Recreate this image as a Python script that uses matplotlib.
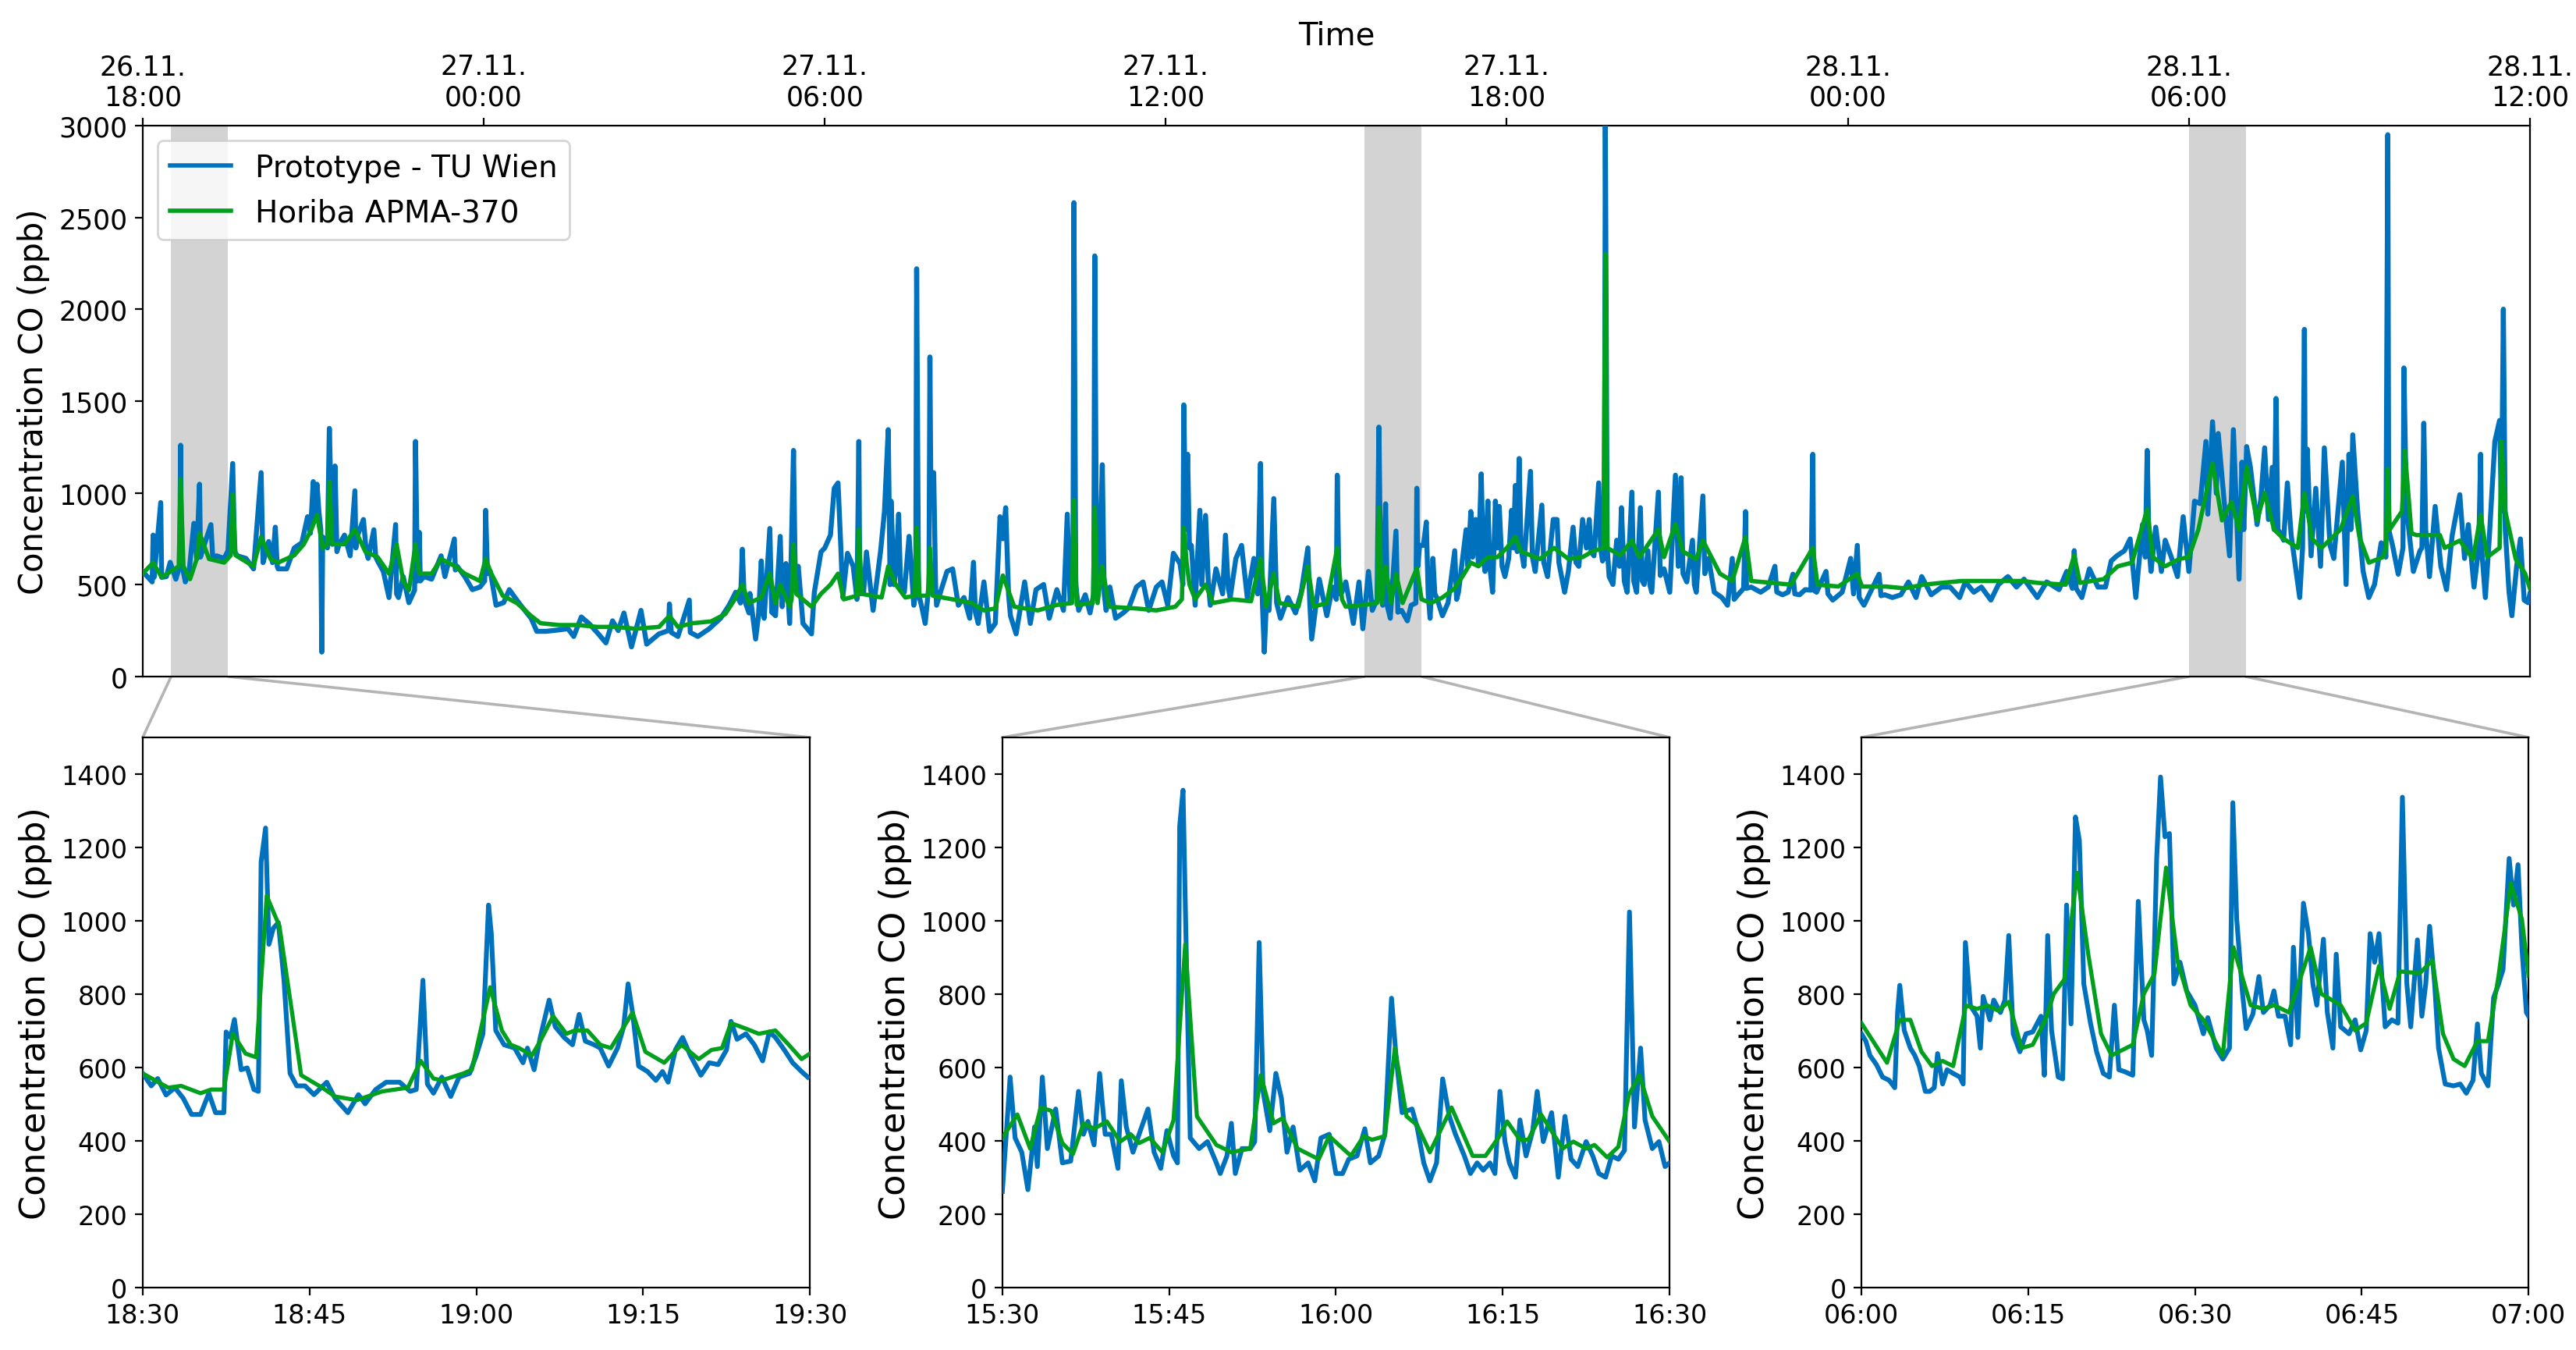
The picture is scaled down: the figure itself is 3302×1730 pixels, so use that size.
import matplotlib
matplotlib.use("Agg")
import matplotlib.pyplot as plt
import matplotlib.dates as mdates
from matplotlib.patches import ConnectionPatch
import pandas as pd

# ------------------------------------------------------------
# CO comparison: prototype sensor vs. Horiba APMA-370 reference
# values (ppb)
# ------------------------------------------------------------
START = pd.Timestamp("2018-11-26 18:00")
END = pd.Timestamp("2018-11-28 12:00")

# main panel, minutes after 26.11. 18:00
main_blue_min = [
    0, 10, 11, 12, 19, 20, 25, 29, 35, 39, 40, 41, 45, 49, 54, 57, 60, 61, 63, 72,
    74, 78, 86, 90, 95, 97, 100, 109, 117, 125, 127, 129, 133, 137, 140, 142, 143, 152, 160, 168,
    174, 177, 180, 182, 184, 186, 188, 189, 190, 195, 197, 200, 203, 205, 207, 213, 219, 224, 225, 227,
    233, 236, 238, 244, 246, 248, 254, 260, 267, 268, 270, 275, 281, 287, 288, 290, 292, 293, 297, 305,
    315, 319, 329, 330, 332, 340, 348, 356, 361, 362, 364, 367, 373, 381, 387, 393, 399, 410, 416, 426,
    438, 449, 455, 463, 471, 481, 489, 496, 502, 508, 516, 526, 532, 545, 555, 556, 558, 565, 577, 578,
    586, 598, 610, 619, 626, 631, 633, 635,
    640, 641, 644, 647, 650, 653, 655, 656, 662, 664, 668, 673, 675, 679, 683, 687, 689, 692, 697, 706,
    709, 716, 720, 726, 730, 734, 737, 739, 744, 750, 754, 756, 757, 761, 764, 771, 779, 783, 787, 789,
    790, 793, 795, 798, 800, 804, 809, 814, 816, 817, 819, 822, 826, 830, 831, 832, 835, 837, 838, 843,
    849, 855, 861, 867, 873, 877, 879, 882, 888, 894, 900, 905, 908, 911, 914, 916, 922, 931, 937, 943,
    951, 957, 965, 972, 976, 979, 982, 983, 985, 988, 995, 1000, 1004, 1005, 1007, 1010, 1013, 1015, 1017, 1021,
    1027, 1035, 1041, 1049, 1056, 1062, 1070, 1076, 1082, 1088, 1095, 1098, 1099, 1101, 1103, 1105, 1107, 1111, 1116, 1118,
    1122, 1125, 1127, 1133, 1140, 1143, 1146, 1148, 1154, 1160, 1166, 1173, 1177, 1180, 1182, 1184, 1186, 1189, 1194, 1197,
    1201, 1209, 1217, 1223, 1230, 1232, 1234, 1242, 1250, 1256, 1260, 1261, 1263, 1266,
    1270, 1278, 1284, 1288, 1294, 1298, 1303, 1305, 1307, 1309, 1312, 1314, 1317, 1323, 1325, 1329, 1335, 1339, 1344, 1345,
    1346, 1348, 1352, 1355, 1357, 1359, 1362, 1364, 1366, 1372, 1378, 1385, 1387, 1389, 1397, 1399, 1402, 1404, 1407, 1410,
    1413, 1415, 1417, 1420, 1422, 1425, 1428, 1430, 1432, 1435, 1438, 1442, 1445, 1447, 1449, 1451, 1453, 1455, 1458, 1465,
    1467, 1470, 1477, 1479, 1483, 1489, 1493, 1495, 1501, 1505, 1510, 1513, 1516, 1520, 1524, 1527, 1529, 1532, 1537, 1539,
    1541, 1543, 1544, 1546, 1548, 1552, 1556, 1559, 1561, 1564, 1567, 1572, 1574, 1577, 1581, 1583, 1585, 1589, 1591, 1593,
    1600, 1602, 1606, 1612, 1618, 1621, 1624, 1626, 1630, 1636, 1638, 1640, 1647, 1649, 1653, 1659, 1667, 1673, 1678, 1680,
    1684, 1690, 1692, 1693, 1698, 1708, 1716, 1723, 1725, 1731, 1737, 1742, 1744, 1749, 1755, 1761, 1763, 1764, 1767, 1777,
    1779, 1784, 1794, 1803, 1806, 1810, 1812, 1817, 1825, 1833, 1835, 1839, 1847, 1856, 1864, 1872, 1878, 1888, 1899,
    1908, 1918, 1924, 1933, 1941, 1951, 1959, 1969, 1978, 1986, 2000, 2010, 2023, 2031, 2037, 2039, 2041, 2047, 2055, 2064,
    2072, 2078, 2084, 2092, 2098, 2104, 2111, 2114, 2116, 2118, 2120, 2125, 2131, 2135, 2141, 2148, 2154, 2160, 2166, 2172,
    2178, 2180, 2185, 2189, 2191, 2197, 2203, 2207, 2213, 2216, 2218, 2221, 2225, 2232, 2236, 2240, 2244, 2248, 2250, 2252,
    2254, 2256, 2260, 2264, 2268, 2277, 2280, 2282, 2283, 2285, 2289, 2294, 2299, 2303, 2309, 2313, 2322, 2326, 2329, 2331,
    2333, 2338, 2344, 2350, 2356, 2363, 2368, 2370, 2371, 2375, 2381, 2386, 2387, 2389, 2391, 2397, 2404, 2406, 2408, 2410,
    2414, 2420, 2426, 2432, 2438, 2446, 2451, 2455, 2461, 2466, 2468, 2469, 2473, 2477, 2483, 2488, 2490, 2492, 2494, 2498,
    2501, 2506, 2510, 2514, 2518, 2520,
]
main_blue_ppb = [
    572, 515, 770, 540, 947, 540, 544, 622, 530, 600, 1259, 620, 515, 572, 834, 640, 1047, 650, 685, 827,
    640, 657, 643, 685, 1160, 680, 657, 643, 586, 1110, 620, 657, 735, 620, 813, 600, 586, 586, 700, 728,
    870, 780, 1061, 850, 1047, 898, 800, 133, 760, 700, 1351, 720, 1146, 680, 714, 770, 657, 1011, 700, 770,
    855, 680, 643, 799, 650, 629, 572, 430, 827, 450, 430, 544, 402, 470, 1280, 520, 785, 520, 544, 530,
    657, 544, 749, 580, 600, 544, 473, 487, 520, 905, 560, 572, 388, 402, 473, 430, 388, 317, 246, 246,
    253, 260, 218, 324, 289, 232, 183, 303, 250, 346, 161, 360, 176, 232, 250, 395, 240, 218, 416, 240,
    218, 260, 317, 388, 459, 400, 693, 420,
    346, 452, 330, 204, 330, 629, 340, 317, 806, 350, 331, 763, 380, 615, 289, 1231, 500, 600, 289, 232,
    459, 678, 700, 770, 1025, 1054, 700, 430, 671, 600, 420, 1280, 450, 459, 678, 360, 685, 898, 1344, 500,
    955, 500, 572, 884, 500, 459, 763, 388, 450, 2220, 450, 388, 289, 500, 1740, 1000, 1110, 500, 388, 473,
    572, 586, 388, 430, 317, 622, 350, 289, 515, 246, 289, 870, 750, 919, 450, 331, 232, 515, 289, 473,
    501, 317, 473, 360, 884, 400, 500, 2580, 500, 360, 445, 346, 450, 2290, 500, 600, 1153, 450, 360, 487,
    317, 346, 374, 487, 515, 360, 487, 515, 388, 671, 615, 500, 1479, 800, 1210, 700, 714, 388, 905, 500,
    877, 500, 388, 586, 450, 770, 480, 430, 643, 714, 430, 643, 450, 1160, 400, 133, 380, 360, 969, 400,
    317, 430, 346, 459, 700, 400, 204, 530, 331, 487, 420, 1096, 450, 459,
    515, 289, 515, 260, 572, 360, 420, 1358, 450, 388, 940, 380, 317, 792, 350, 360, 303, 388, 400, 1025,
    600, 714, 714, 841, 450, 317, 643, 450, 430, 331, 402, 685, 420, 459, 799, 600, 898, 650, 855, 620,
    1103, 650, 572, 955, 600, 459, 955, 700, 926, 600, 544, 643, 905, 700, 1040, 680, 1187, 700, 600, 1117,
    650, 572, 933, 620, 544, 855, 855, 620, 459, 572, 813, 620, 600, 855, 700, 855, 680, 657, 1054, 700,
    629, 650, 3000, 700, 544, 501, 742, 600, 919, 520, 459, 1004, 520, 459, 919, 520, 501, 685, 500, 459,
    1004, 550, 586, 459, 1096, 600, 1082, 560, 515, 742, 500, 459, 983, 560, 643, 459, 430, 388, 643, 420,
    445, 480, 898, 480, 487, 459, 487, 600, 460, 445, 459, 557, 450, 445, 473, 470, 1210, 470, 459, 572,
    450, 416, 459, 643, 450, 714, 430, 388, 473, 557, 440, 445, 430, 445, 515, 430, 544, 445, 487,
    487, 430, 515, 459, 487, 416, 501, 544, 487, 530, 430, 515, 473, 572, 480, 685, 480, 430, 586, 487,
    487, 629, 657, 685, 749, 430, 827, 650, 1231, 700, 572, 813, 572, 742, 657, 544, 870, 572, 955, 941,
    1280, 884, 1387, 997, 1323, 969, 657, 1344, 530, 1167, 800, 1252, 1139, 827, 969, 1245, 855, 1139, 800, 1514,
    800, 785, 742, 1054, 770, 430, 700, 1890, 900, 1238, 657, 1025, 600, 1245, 714, 643, 1167, 501, 1210, 800,
    1316, 912, 572, 430, 501, 728, 650, 2950, 800, 714, 557, 700, 1680, 1100, 855, 572, 685, 700, 1379, 800,
    544, 926, 600, 473, 770, 990, 643, 827, 487, 700, 1210, 700, 430, 742, 1280, 1394, 900, 2000, 800, 459,
    331, 600, 749, 416, 402, 450,
]

main_green_min = [
    0, 11, 20, 38, 40, 43, 50, 57, 60, 70, 86, 93, 95, 98, 117, 125, 135, 143, 160, 170, 178, 184,
    190, 195, 197, 200, 213, 224, 235, 248, 260, 268, 275, 281, 288, 292, 305, 315, 330, 340, 356, 362, 368,
    380, 395, 410, 420, 440, 460, 480, 500, 520, 545, 556, 565, 580, 600, 615, 625, 633, 640,
    653, 662, 668, 673, 683, 685, 687, 690, 706, 716, 726, 734, 740, 754, 756, 759, 780, 787, 795, 805, 815, 817, 820,
    829, 831, 834, 855, 875, 888, 900, 908, 920, 945, 965, 981, 983, 986, 1003, 1005, 1008, 1013, 1020, 1050, 1070, 1090,
    1097, 1099, 1102, 1105, 1111, 1122, 1130, 1150, 1170, 1180, 1186, 1194, 1200, 1220, 1230, 1236, 1250, 1261, 1266,
    1270, 1290, 1303, 1305, 1308, 1312, 1318, 1323, 1330, 1345, 1350, 1360, 1372, 1385, 1395, 1402, 1410, 1420, 1430, 1440, 1449,
    1455, 1465, 1475, 1490, 1505, 1520, 1530, 1542, 1544, 1546, 1560, 1572, 1580, 1600, 1606, 1618, 1626, 1640, 1647, 1653, 1665,
    1678, 1692, 1698, 1720, 1740, 1763, 1768, 1790, 1810, 1815, 1840, 1860, 1880, 1899,
    1920, 1960, 1985, 2000, 2030, 2039, 2045, 2070, 2085, 2100, 2116, 2122, 2135, 2150, 2160, 2170, 2185, 2195, 2205, 2213,
    2221, 2232, 2240, 2250, 2260, 2275, 2282, 2290, 2300, 2320, 2333, 2340, 2350, 2365, 2368, 2370, 2372, 2385, 2388, 2395, 2400,
    2425, 2430, 2446, 2460, 2468, 2475, 2488, 2490, 2494, 2505, 2515, 2520,
]
main_green_ppb = [
    560, 620, 540, 600, 1075, 600, 530, 640, 780, 640, 620, 660, 990, 660, 600, 760, 640, 620, 660, 720, 800, 880,
    700, 720, 1060, 720, 720, 800, 680, 650, 560, 720, 520, 470, 720, 560, 560, 640, 600, 560, 520, 640, 560,
    440, 400, 330, 290, 280, 280, 270, 270, 260, 270, 330, 270, 290, 300, 340, 420, 500, 400,
    430, 560, 400, 500, 380, 420, 720, 450, 380, 450, 500, 560, 420, 440, 800, 450, 430, 600, 500, 430, 440, 810, 440,
    440, 700, 440, 420, 400, 360, 370, 550, 380, 360, 390, 400, 960, 390, 400, 920, 400, 600, 380, 370, 360, 380,
    420, 810, 620, 500, 420, 500, 400, 420, 410, 640, 380, 560, 400, 380, 600, 380, 400, 700, 420,
    380, 390, 400, 920, 400, 600, 400, 560, 400, 590, 420, 400, 430, 480, 560, 620, 600, 650, 650, 700, 760,
    680, 660, 640, 700, 640, 650, 680, 700, 2300, 700, 660, 740, 650, 800, 650, 830, 680, 640, 740, 680, 560,
    520, 760, 520, 510, 500, 700, 500, 490, 560, 490, 490, 480, 500, 510,
    520, 520, 520, 510, 500, 660, 510, 530, 600, 620, 910, 650, 600, 640, 650, 800, 1160, 850, 950, 800,
    1140, 850, 1000, 800, 750, 700, 1000, 750, 700, 800, 980, 760, 620, 650, 700, 1130, 800, 900, 1230, 780, 770,
    770, 700, 740, 640, 880, 650, 700, 1280, 900, 640, 560, 480,
]

# zoom windows (1 h each), minutes after window start
zoom_starts = ["2018-11-26 18:30", "2018-11-27 15:30", "2018-11-28 06:00"]

zoom1_blue_min = [
    0, 0.77, 1.35, 2.1, 2.9, 3.65, 4.4, 5.2, 5.95, 6.55, 7.3, 7.5, 7.9, 8.25, 8.85, 9.4, 10.0, 10.4, 10.65, 11.05,
    11.35, 11.75, 12.2, 12.7, 13.25, 13.85, 14.6, 15.4, 16.55, 17.3, 18.45, 19.4, 20.0, 20.95, 21.9, 23.1, 24.05, 24.6, 25.2, 25.6,
    26.15, 26.9, 27.7, 28.45, 29.4, 30.0, 30.6, 31.1, 31.35, 31.75, 32.5, 33.45, 34.2, 34.6, 35.2, 35.75, 36.55, 37.1, 37.9, 38.65,
    39.25, 39.8, 40.6, 41.15, 41.9, 42.7, 43.25, 43.65, 44.05, 44.6, 45.4, 46.15, 46.75, 47.25, 47.9, 48.55, 49.25, 50.2, 50.95, 51.75,
    52.5, 52.9, 53.45, 54.25, 55.0, 55.75, 56.35, 56.9, 57.7, 58.45, 59.25, 59.8,
]
zoom1_blue_ppb = [
    584, 550, 570, 525, 545, 516, 472, 472, 530, 477, 477, 697, 682, 731, 594, 599, 540, 535, 1161, 1253,
    936, 980, 995, 840, 584, 550, 550, 526, 560, 516, 477, 526, 501, 540, 560, 560, 535, 540, 838, 555,
    530, 574, 521, 574, 584, 633, 692, 1043, 965, 701, 662, 653, 613, 653, 594, 682, 784, 711, 682, 662,
    745, 672, 662, 653, 604, 653, 711, 828, 750, 604, 589, 565, 589, 560, 648, 682, 633, 579, 613, 608,
    648, 726, 677, 692, 662, 618, 697, 682, 648, 613, 589, 574,
]
zoom1_green_min = [
    0, 2.3, 3.45, 5.2, 6.15, 7.3, 8.1, 9.25, 10.2, 11.15, 12.3, 14.25, 16.15, 17.3, 19.25, 21.55, 23.85, 25.0, 26.15, 26.9,
    28.85, 29.6, 31.25, 32.3, 33.1, 33.85, 35.0, 35.75, 36.9, 38.1, 38.85, 40.0, 41.15, 42.1, 44.05, 45.2, 46.9, 48.45, 50.0, 51.15,
    52.1, 52.9, 54.25, 55.4, 56.9, 58.1, 59.25, 60.0,
]
zoom1_green_ppb = [
    584, 545, 550, 530, 540, 540, 692, 638, 628, 1068, 985, 579, 545, 521, 511, 535, 545, 618, 570, 565,
    584, 594, 819, 701, 662, 653, 633, 672, 740, 692, 701, 701, 662, 653, 750, 643, 613, 662, 623, 648,
    653, 721, 706, 692, 701, 662, 623, 638,
]

zoom2_blue_min = [
    0, 0.4, 0.7, 1.15, 1.75, 2.3, 2.9, 3.15, 3.6, 4.05, 4.8, 5.4, 6.15, 6.85, 7.3, 7.7, 8.25, 8.75, 9.25, 9.8,
    10.4, 10.7, 11.15, 11.75, 12.3, 13.1, 13.65, 14.25, 14.8, 15.4, 15.75, 15.95, 16.25, 16.6, 16.9, 17.7, 18.45, 19.25, 19.6, 20.2,
    20.6, 20.95, 21.55, 22.3, 22.7, 23.1, 23.45, 24.05, 24.6, 25.1, 25.6, 26.15, 26.75, 27.5, 28.1, 28.65, 29.4, 30.0, 30.6, 31.15,
    31.9, 32.6, 33.1, 33.85, 34.4, 35.0, 35.4, 35.95, 36.85, 37.3, 37.9, 38.45, 39.05, 39.6, 40.2, 40.75, 41.55, 42.1, 42.7, 43.25,
    43.85, 44.3, 44.75, 45.2, 45.6, 46.15, 46.55, 47.1, 47.7, 48.1, 48.65, 49.4, 50.0, 50.6, 51.15, 51.75, 52.5, 53.1, 53.65, 54.25,
    54.8, 55.4, 55.95, 56.4, 56.85, 57.4, 57.8, 58.45, 59.05, 59.6, 60.0,
]
zoom2_blue_ppb = [
    262, 438, 574, 408, 369, 267, 438, 330, 574, 379, 487, 340, 345, 535, 418, 453, 389, 584, 418, 418,
    325, 564, 438, 369, 418, 487, 369, 325, 428, 359, 340, 1258, 1356, 828, 408, 379, 398, 340, 311, 359,
    448, 311, 379, 379, 398, 941, 535, 428, 584, 516, 369, 438, 320, 340, 291, 408, 418, 311, 311, 350,
    359, 433, 340, 359, 418, 789, 633, 477, 487, 438, 340, 291, 340, 569, 467, 418, 359, 311, 340, 320,
    340, 311, 535, 398, 340, 301, 457, 359, 428, 535, 398, 477, 301, 467, 350, 330, 398, 359, 311, 301,
    359, 350, 374, 1024, 438, 653, 457, 379, 398, 330, 340,
]
zoom2_green_min = [
    0, 1.35, 2.5, 3.45, 4.4, 5.4, 6.35, 7.3, 8.25, 9.4, 10.6, 11.55, 12.3, 13.25, 14.4, 15.4, 16.45, 17.5, 19.25, 20.6,
    22.3, 23.25, 24.4, 25.2, 26.55, 28.45, 29.4, 31.35, 32.5, 33.25, 34.4, 35.3, 36.35, 37.3, 38.45, 40.4, 42.3, 43.45, 44.6, 45.4,
    46.55, 47.3, 48.45, 50.4, 51.35, 52.5, 53.25, 54.4, 55.4, 56.35, 57.3, 58.45, 60.0,
]
zoom2_green_ppb = [
    408, 472, 379, 491, 482, 394, 364, 448, 433, 453, 398, 418, 394, 408, 369, 457, 936, 467, 389, 369,
    379, 579, 448, 462, 379, 350, 413, 359, 413, 403, 413, 653, 467, 443, 369, 491, 359, 359, 408, 453,
    403, 403, 472, 379, 398, 379, 389, 355, 384, 526, 579, 467, 398,
]

zoom3_blue_min = [
    0, 0.4, 0.77, 1.35, 1.9, 2.5, 3.0, 3.25, 3.45, 3.85, 4.4, 4.8, 5.2, 5.75, 6.15, 6.55, 6.85, 7.3, 7.7, 8.25,
    8.85, 9.15, 9.35, 9.8, 10.4, 10.7, 10.95, 11.55, 11.9, 12.5, 12.9, 13.25, 13.65, 14.25, 14.8, 15.4, 16.15, 16.45, 16.75, 17.1,
    17.7, 18.1, 18.45, 18.85, 19.25, 19.6, 20.0, 20.6, 21.15, 21.75, 22.3, 22.75, 23.15, 23.65, 24.4, 24.9, 25.4, 25.7, 26.1, 26.55,
    26.9, 27.3, 27.7, 28.1, 28.65, 29.25, 30.0, 30.75, 31.15, 31.9, 32.5, 33.1, 33.4, 33.75, 34.25, 34.6, 35.2, 35.75, 36.15, 36.75,
    37.1, 37.5, 38.1, 38.6, 38.85, 39.25, 39.75, 40.2, 40.6, 40.95, 41.55, 41.9, 42.4, 42.7, 43.1, 43.85, 44.4, 44.9, 45.4, 45.75,
    46.15, 46.55, 47.1, 47.7, 48.25, 48.65, 49.05, 49.4, 50.0, 50.4, 50.75, 51.1, 51.55, 51.9, 52.5, 53.25, 53.85, 54.4, 55.0, 55.4,
    55.75, 56.35, 56.85, 57.3, 57.7, 58.25, 58.65, 59.05, 59.4, 59.8, 60.0,
]
zoom3_blue_ppb = [
    692, 672, 633, 608, 574, 565, 545, 750, 824, 701, 653, 633, 604, 535, 535, 545, 638, 555, 594, 584,
    574, 555, 941, 769, 740, 653, 794, 730, 784, 750, 784, 960, 692, 643, 692, 697, 740, 579, 960, 701,
    574, 569, 1043, 719, 1283, 1219, 828, 721, 643, 584, 574, 770, 594, 589, 579, 1053, 730, 701, 633, 1168,
    1392, 1229, 1238, 828, 887, 809, 770, 692, 736, 653, 623, 653, 1322, 1004, 809, 706, 745, 848, 750, 770,
    809, 740, 740, 662, 928, 682, 1048, 965, 828, 770, 950, 750, 653, 909, 711, 692, 730, 648, 701, 965,
    887, 965, 711, 730, 721, 1337, 828, 711, 948, 740, 828, 985, 828, 653, 555, 550, 555, 530, 565, 719,
    584, 550, 790, 828, 867, 1170, 1043, 1153, 926, 750, 740,
]
zoom3_green_min = [
    0, 2.3, 3.45, 4.4, 5.4, 6.35, 7.3, 8.25, 9.4, 10.4, 11.35, 12.3, 13.25, 14.4, 15.4, 16.55, 17.3, 18.25, 19.4, 20.4,
    21.55, 22.5, 24.4, 25.4, 26.35, 27.4, 28.45, 29.6, 30.75, 32.5, 33.45, 35.0, 36.15, 37.1, 38.45, 40.4, 41.35, 43.1, 44.4, 45.4,
    46.55, 47.5, 48.45, 50.2, 51.35, 52.3, 53.25, 54.25, 55.4, 56.35, 57.3, 58.4, 59.4, 60.0,
]
zoom3_green_ppb = [
    721, 613, 730, 730, 643, 604, 618, 604, 769, 760, 769, 755, 779, 653, 662, 730, 801, 840, 1131, 909,
    692, 633, 662, 801, 855, 1145, 887, 770, 730, 633, 928, 770, 760, 770, 750, 928, 801, 770, 701, 721,
    877, 760, 862, 857, 892, 692, 623, 604, 672, 672, 850, 1102, 1004, 850,
]

BLUE = "#0072bd"
GREEN = "#00a01e"
SPAN = "#d3d3d3"
LINK = "#b4b4b4"
YLABEL = "Concentration CO (ppb)"


def to_time(t0, minutes):
    return (pd.Timestamp(t0) + pd.to_timedelta(minutes, unit="m")).to_numpy()


fig = plt.figure(figsize=(16.51, 8.655), dpi=200)
ax = fig.add_axes([0.0554, 0.4986, 0.9267, 0.4079])

ax.plot(to_time(START, main_blue_min), main_blue_ppb, color=BLUE, lw=2.3, label="Prototype - TU Wien", zorder=3)
ax.plot(to_time(START, main_green_min), main_green_ppb, color=GREEN, lw=2.0, label="Horiba APMA-370", zorder=4)
ax.set_xlim(START.to_numpy(), END.to_numpy())
ax.set_ylim(0, 3000)
ax.set_yticks(range(0, 3001, 500))
ax.xaxis.tick_top()
ax.xaxis.set_label_position("top")
ax.xaxis.set_major_locator(mdates.HourLocator(byhour=[0, 6, 12, 18]))
ax.xaxis.set_major_formatter(mdates.DateFormatter("%d.%m.\n%H:%M"))
ax.set_xlabel("Time", fontsize=14.5)
ax.set_ylabel(YLABEL, fontsize=15)
ax.tick_params(labelsize=12.5)
leg = ax.legend(loc="upper left", fontsize=14)
for line in leg.get_lines():
    line.set_linewidth(2.0)

zoom_blue = [(zoom1_blue_min, zoom1_blue_ppb), (zoom2_blue_min, zoom2_blue_ppb), (zoom3_blue_min, zoom3_blue_ppb)]
zoom_green = [(zoom1_green_min, zoom1_green_ppb), (zoom2_green_min, zoom2_green_ppb), (zoom3_green_min, zoom3_green_ppb)]
inset_left = [0.0554, 0.3891, 0.7226]

for left, t0, (bm, bv), (gm, gv) in zip(inset_left, zoom_starts, zoom_blue, zoom_green):
    t0 = pd.Timestamp(t0)
    t1 = t0 + pd.Timedelta(hours=1)
    ax.axvspan(t0.to_numpy(), t1.to_numpy(), color=SPAN, lw=0, zorder=1)

    axi = fig.add_axes([left, 0.0462, 0.2590, 0.4073])
    axi.plot(to_time(t0, bm), bv, color=BLUE, lw=2.2, zorder=3)
    axi.plot(to_time(t0, gm), gv, color=GREEN, lw=1.9, zorder=4)
    axi.set_xlim(t0.to_numpy(), t1.to_numpy())
    axi.set_ylim(0, 1500)
    axi.set_yticks(range(0, 1401, 200))
    axi.xaxis.set_major_locator(mdates.MinuteLocator(byminute=[0, 15, 30, 45]))
    axi.xaxis.set_major_formatter(mdates.DateFormatter("%H:%M"))
    axi.set_ylabel(YLABEL, fontsize=16)
    axi.tick_params(labelsize=12)

    # gray lines from the shaded band down to the zoomed panel
    for tx, corner in [(t0, 0), (t1, 1)]:
        con = ConnectionPatch(xyA=(mdates.date2num(tx), 0), coordsA=ax.transData,
                              xyB=(corner, 1), coordsB=axi.transAxes,
                              color=LINK, lw=1.3, zorder=0)
        fig.add_artist(con)

fig.savefig("out.png", dpi=200)
